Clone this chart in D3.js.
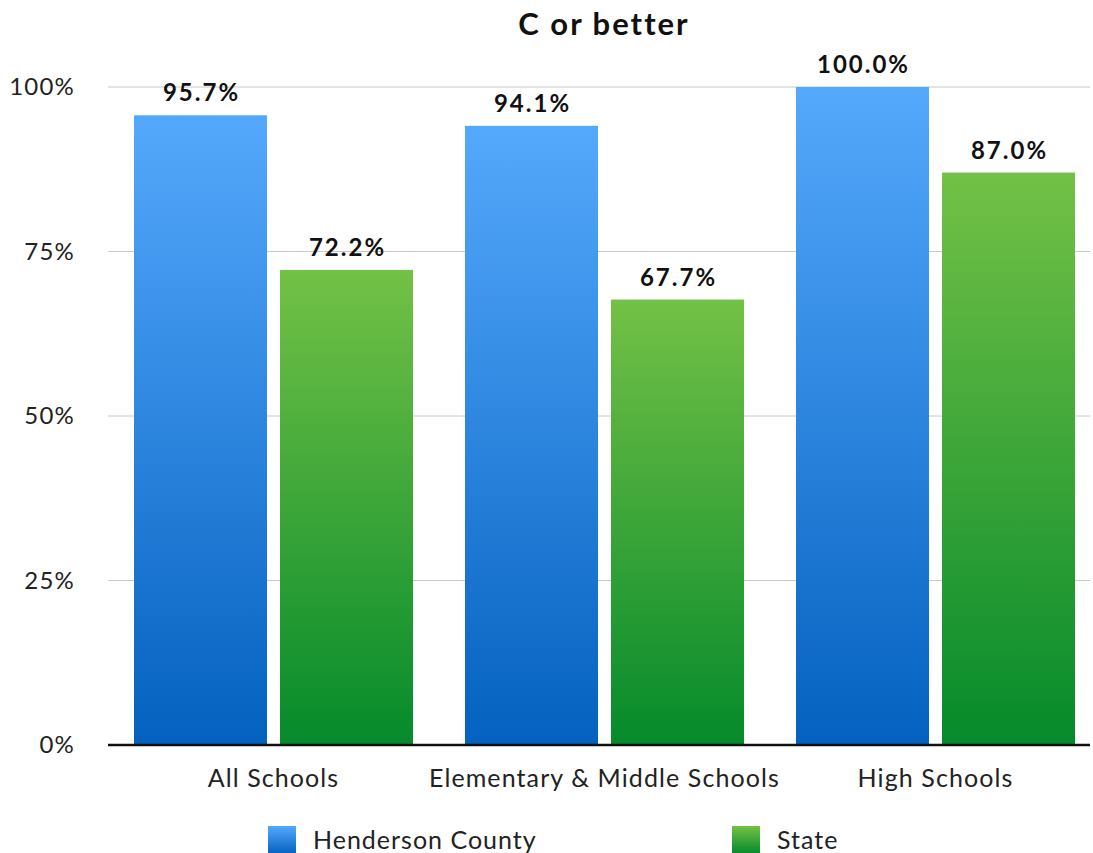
<!DOCTYPE html>
<html>
<head>
<meta charset="utf-8">
<script src="https://cdn.jsdelivr.net/npm/d3@7"></script>
<style>
  body { margin: 0; background: #fff; }
  text { font-family: Lato, 'Open Sans', sans-serif; }
</style>
</head>
<body>
<svg id="chart" width="1093" height="853"></svg>
<script>
const categories = ['All Schools', 'Elementary & Middle Schools', 'High Schools']
const seriesNames = ['Henderson County', 'State']
const henderson = [95.7, 94.1, 100.0]
const state = [72.2, 67.7, 87.0]
const yTicks = [0, 25, 50, 75, 100]

const seriesValues = [henderson, state]
const colors = [
  { top: '#55a9fc', bottom: '#0461bf' },
  { top: '#73c146', bottom: '#058a2b' }
]

const svg = d3.select('#chart')
const defs = svg.append('defs')
colors.forEach((c, i) => {
  const g = defs.append('linearGradient')
    .attr('id', 'grad' + i)
    .attr('x1', 0).attr('y1', 0).attr('x2', 0).attr('y2', 1)
  g.append('stop').attr('offset', '0%').attr('stop-color', c.top)
  g.append('stop').attr('offset', '100%').attr('stop-color', c.bottom)
})

const left = 108, right = 1101, gridRight = 1090
const y = d3.scaleLinear().domain([0, 100]).range([745, 87])
const x0 = d3.scaleBand().domain(categories).range([left, right])
const x1 = d3.scaleBand().domain(seriesNames).range([26, 305]).paddingInner(0.089)

// grid
svg.append('g')
  .selectAll('line')
  .data(yTicks.filter(d => d > 0))
  .join('line')
  .attr('x1', left).attr('x2', gridRight)
  .attr('y1', d => y(d)).attr('y2', d => y(d))
  .attr('stroke', '#c8c8c8').attr('stroke-width', 1)

// y labels
svg.append('g')
  .selectAll('text')
  .data(yTicks)
  .join('text')
  .attr('x', 75)
  .attr('y', d => y(d))
  .attr('dy', '0.35em')
  .attr('text-anchor', 'end')
  .attr('font-size', 24)
  .attr('letter-spacing', 1.2)
  .attr('fill', '#222')
  .text(d => d + '%')

// bars
const groups = svg.append('g')
  .selectAll('g')
  .data(categories)
  .join('g')
  .attr('transform', d => `translate(${x0(d)},0)`)

groups.selectAll('rect')
  .data((d, i) => seriesNames.map((s, j) => ({ s, j, v: seriesValues[j][i] })))
  .join('rect')
  .attr('x', d => x1(d.s))
  .attr('width', x1.bandwidth())
  .attr('y', d => y(d.v))
  .attr('height', d => y(0) - y(d.v))
  .attr('fill', d => `url(#grad${d.j})`)

groups.selectAll('text.val')
  .data((d, i) => seriesNames.map((s, j) => ({ s, j, v: seriesValues[j][i] })))
  .join('text')
  .attr('class', 'val')
  .attr('x', d => x1(d.s) + x1.bandwidth() / 2 + 1)
  .attr('y', d => y(d.v) - 14)
  .attr('text-anchor', 'middle')
  .attr('font-size', 24)
  .attr('letter-spacing', 2)
  .attr('font-weight', 'bold')
  .attr('fill', '#111')
  .text(d => d.v.toFixed(1) + '%')

// baseline
svg.append('line')
  .attr('x1', left).attr('x2', gridRight)
  .attr('y1', y(0)).attr('y2', y(0))
  .attr('stroke', '#111').attr('stroke-width', 2.5)

// category labels
svg.append('g')
  .selectAll('text')
  .data(categories)
  .join('text')
  .attr('x', d => x0(d) + (26 + 305) / 2)
  .attr('y', 787)
  .attr('text-anchor', 'middle')
  .attr('font-size', 25)
  .attr('letter-spacing', 1.1)
  .attr('fill', '#222')
  .text(d => d)

// title
svg.append('text')
  .attr('x', 604).attr('y', 35)
  .attr('text-anchor', 'middle')
  .attr('font-size', 31)
  .attr('letter-spacing', 2)
  .attr('font-weight', 'bold')
  .attr('fill', '#111')
  .text('C or better')

// legend
const legendX = [268, 732]
const legend = svg.append('g')
  .selectAll('g')
  .data(seriesNames)
  .join('g')
  .attr('transform', (d, i) => `translate(${legendX[i]},826)`)
legend.append('rect')
  .attr('width', 28).attr('height', 28)
  .attr('fill', (d, i) => `url(#grad${i})`)
legend.append('text')
  .attr('x', 45).attr('y', 14)
  .attr('dy', '0.35em')
  .attr('font-size', 25)
  .attr('letter-spacing', 1)
  .attr('fill', '#222')
  .text(d => d)
</script>
</body>
</html>
